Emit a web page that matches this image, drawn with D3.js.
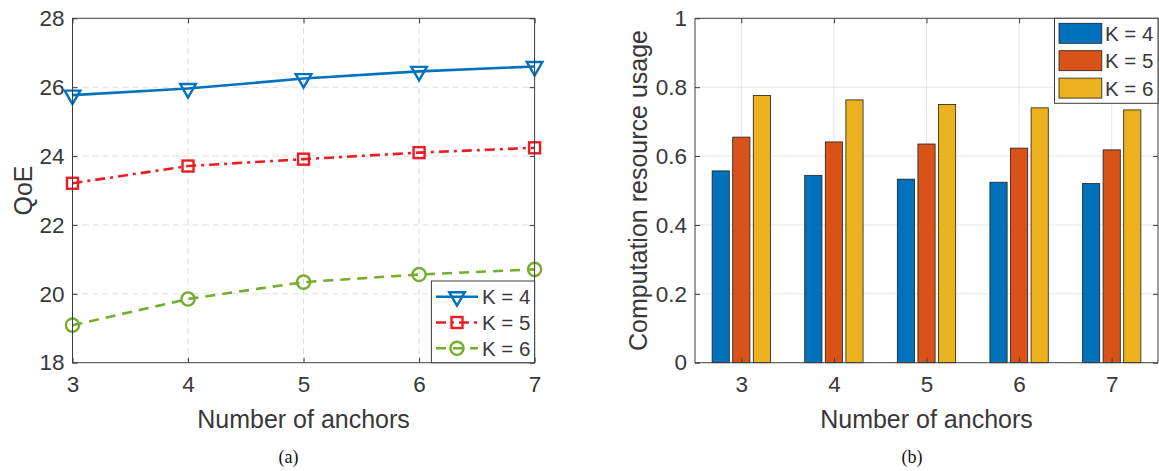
<!DOCTYPE html>
<html>
<head>
<meta charset="utf-8">
<script src="https://cdn.jsdelivr.net/npm/d3@7/dist/d3.min.js"></script>
<style>
  html, body { margin: 0; padding: 0; background: #fff; }
  svg { display: block; }
  text { font-family: "Liberation Sans", Arial, Helvetica, sans-serif; fill: #383838; }
  .caption { font-family: "Liberation Serif", "Times New Roman", serif; fill: #111; }
</style>
</head>
<body>
<svg id="chart" width="1159" height="471"></svg>
<script>
// Number of anchors on the horizontal axis of both panels
const anchors = [3, 4, 5, 6, 7];
const seriesNames = ["K = 4", "K = 5", "K = 6"];

// (a) QoE per number of anchors
const qoeK4 = [25.77, 25.96, 26.25, 26.46, 26.60];
const qoeK5 = [23.21, 23.71, 23.91, 24.10, 24.24];
const qoeK6 = [19.09, 19.85, 20.34, 20.56, 20.71];
const qoeTicks = [18, 20, 22, 24, 26, 28];

// (b) computation resource usage per number of anchors
const usageK4 = [0.557, 0.544, 0.533, 0.524, 0.520];
const usageK5 = [0.655, 0.641, 0.635, 0.623, 0.618];
const usageK6 = [0.776, 0.763, 0.750, 0.740, 0.734];
const usageTicks = [0, 0.2, 0.4, 0.6, 0.8, 1];

const svg = d3.select("#chart");
const axisColor = "#3c3c3c";
const tickFont = 22.5;
const labelFont = 25;
const legendFont = 20.5;
const tickLen = 5;
const lineW = 2.6;

// ---------- panel (a): line chart ----------
const A = { left: 72.5, right: 534.6, top: 18.3, bottom: 362.7 };
const xA = d3.scaleLinear().domain([3, 7]).range([A.left, A.right]);
const yA = d3.scaleLinear().domain([18, 28]).range([A.bottom, A.top]);

const gA = svg.append("g");

// dashed grid
gA.append("g").selectAll("line").data(anchors.slice(1, -1)).join("line")
  .attr("x1", d => xA(d)).attr("x2", d => xA(d))
  .attr("y1", A.top).attr("y2", A.bottom)
  .attr("stroke", "#dcdcdc").attr("stroke-width", 1).attr("stroke-dasharray", "6,4");
gA.append("g").selectAll("line").data(qoeTicks.slice(1, -1)).join("line")
  .attr("x1", A.left).attr("x2", A.right)
  .attr("y1", d => yA(d)).attr("y2", d => yA(d))
  .attr("stroke", "#dcdcdc").attr("stroke-width", 1).attr("stroke-dasharray", "6,4");

// axes with inward ticks on all four sides
function boxAxes(g, xs, ys, xt, yt, box, xFmt, yFmt) {
  g.append("g").attr("transform", `translate(0,${box.bottom})`)
    .call(d3.axisBottom(xs).tickValues(xt).tickSize(-tickLen).tickPadding(13).tickFormat(xFmt))
    .call(s => s.select(".domain").remove());
  g.append("g").attr("transform", `translate(0,${box.top})`)
    .call(d3.axisTop(xs).tickValues(xt).tickSize(-tickLen).tickFormat(""))
    .call(s => s.select(".domain").remove());
  g.append("g").attr("transform", `translate(${box.left},0)`)
    .call(d3.axisLeft(ys).tickValues(yt).tickSize(-tickLen).tickPadding(8).tickFormat(yFmt))
    .call(s => s.select(".domain").remove());
  g.append("g").attr("transform", `translate(${box.right},0)`)
    .call(d3.axisRight(ys).tickValues(yt).tickSize(-tickLen).tickFormat(""))
    .call(s => s.select(".domain").remove());
  g.selectAll(".tick line").attr("stroke", axisColor);
  g.selectAll(".tick text").attr("font-size", tickFont).attr("fill", "#383838")
    .attr("font-family", "Liberation Sans, Arial, sans-serif");
  g.append("rect").attr("x", box.left).attr("y", box.top)
    .attr("width", box.right - box.left).attr("height", box.bottom - box.top)
    .attr("fill", "none").attr("stroke", axisColor).attr("stroke-width", 1);
}

const lineSeries = [
  { name: seriesNames[0], values: qoeK4, color: "#0072BD", dash: null, marker: "tri" },
  { name: seriesNames[1], values: qoeK5, color: "#ED1C24", dash: "10,5,3,5", marker: "sq" },
  { name: seriesNames[2], values: qoeK6, color: "#77AC30", dash: "10,7", marker: "circ" }
];

const line = d3.line().x((d, i) => xA(anchors[i])).y(d => yA(d));

function drawMarker(g, kind, color) {
  if (kind === "tri") {
    g.append("path").attr("d", d3.symbol(d3.symbolTriangle, 105)())
      .attr("transform", "rotate(180)")
      .attr("fill", "none").attr("stroke", color).attr("stroke-width", 2.4);
  } else if (kind === "sq") {
    g.append("rect").attr("x", -5.5).attr("y", -5.5).attr("width", 11).attr("height", 11)
      .attr("fill", "none").attr("stroke", color).attr("stroke-width", 2.4);
  } else {
    g.append("circle").attr("r", 6.6)
      .attr("fill", "none").attr("stroke", color).attr("stroke-width", 2.4);
  }
}

lineSeries.forEach(s => {
  gA.append("path").datum(s.values).attr("d", line)
    .attr("fill", "none").attr("stroke", s.color).attr("stroke-width", lineW)
    .attr("stroke-dasharray", s.dash);
  s.values.forEach((v, i) => {
    const m = gA.append("g").attr("transform", `translate(${xA(anchors[i])},${yA(v)})`);
    drawMarker(m, s.marker, s.color);
  });
});

boxAxes(gA, xA, yA, anchors, qoeTicks, A, d3.format("d"), d3.format("d"));

gA.append("text").attr("x", (A.left + A.right) / 2).attr("y", 427.5)
  .attr("text-anchor", "middle").attr("font-size", labelFont).text("Number of anchors");
gA.append("text").attr("transform", `translate(31.5,${(A.top + A.bottom) / 2}) rotate(-90)`)
  .attr("text-anchor", "middle").attr("font-size", labelFont).text("QoE");

// legend (a)
const legA = gA.append("g");
legA.append("rect").attr("x", 431.4).attr("y", 281).attr("width", A.right - 431.4)
  .attr("height", A.bottom - 281).attr("fill", "#fff").attr("stroke", axisColor).attr("stroke-width", 1);
lineSeries.forEach((s, i) => {
  const y = 296.7 + i * 25.8;
  legA.append("line").attr("x1", 436).attr("x2", 478).attr("y1", y).attr("y2", y)
    .attr("stroke", s.color).attr("stroke-width", lineW).attr("stroke-dasharray", s.dash);
  const m = legA.append("g").attr("transform", `translate(457,${y})`);
  drawMarker(m, s.marker, s.color);
  legA.append("text").attr("x", 482).attr("y", y + 7.5).attr("font-size", legendFont).text(s.name);
});

svg.append("text").attr("class", "caption").attr("x", 288.6).attr("y", 463)
  .attr("text-anchor", "middle").attr("font-size", 18).text("(a)");

// ---------- panel (b): grouped bar chart ----------
const B = { left: 695, right: 1158, top: 18.3, bottom: 362.7 };
const xB = d3.scaleBand().domain(anchors).range([B.left, B.right]).padding(0);
const xPos = d3.scaleLinear().domain([2.5, 7.5]).range([B.left, B.right]);
const inner = d3.scaleBand().domain(seriesNames)
  .range([-0.315 * xB.bandwidth(), 0.315 * xB.bandwidth()]).paddingInner(0.165);
const yB = d3.scaleLinear().domain([0, 1]).range([B.bottom, B.top]);

const gB = svg.append("g");

// solid grid
gB.append("g").selectAll("line").data(anchors).join("line")
  .attr("x1", d => xPos(d)).attr("x2", d => xPos(d))
  .attr("y1", B.top).attr("y2", B.bottom)
  .attr("stroke", "#e6e6e6").attr("stroke-width", 1);
gB.append("g").selectAll("line").data(usageTicks.slice(1, -1)).join("line")
  .attr("x1", B.left).attr("x2", B.right)
  .attr("y1", d => yB(d)).attr("y2", d => yB(d))
  .attr("stroke", "#e6e6e6").attr("stroke-width", 1);

const barSeries = [
  { name: seriesNames[0], values: usageK4, color: "#0072BD" },
  { name: seriesNames[1], values: usageK5, color: "#D95319" },
  { name: seriesNames[2], values: usageK6, color: "#EDB120" }
];

barSeries.forEach(s => {
  gB.append("g").selectAll("rect").data(s.values).join("rect")
    .attr("x", (d, i) => xB(anchors[i]) + xB.bandwidth() / 2 + inner(s.name))
    .attr("width", inner.bandwidth())
    .attr("y", d => yB(d))
    .attr("height", d => yB(0) - yB(d))
    .attr("fill", s.color).attr("stroke", "#1e1e1e").attr("stroke-width", 0.8);
});

boxAxes(gB, xPos, yB, anchors, usageTicks, B, d3.format("d"), d => d === 0 || d === 1 ? d3.format("d")(d) : d3.format(".1f")(d));

gB.append("text").attr("x", (B.left + B.right) / 2).attr("y", 427.5)
  .attr("text-anchor", "middle").attr("font-size", labelFont).text("Number of anchors");
gB.append("text").attr("transform", `translate(647,${(B.top + B.bottom) / 2}) rotate(-90)`)
  .attr("text-anchor", "middle").attr("font-size", labelFont).text("Computation resource usage");

// legend (b)
const legB = gB.append("g");
legB.append("rect").attr("x", 1054.5).attr("y", B.top).attr("width", B.right - 1054.5)
  .attr("height", 103.3 - B.top).attr("fill", "#fff").attr("stroke", axisColor).attr("stroke-width", 1);
barSeries.forEach((s, i) => {
  const y = 23.3 + i * 27.4;
  legB.append("rect").attr("x", 1059).attr("y", y).attr("width", 42.8).attr("height", 20)
    .attr("fill", s.color).attr("stroke", "#1e1e1e").attr("stroke-width", 0.8);
  legB.append("text").attr("x", 1105).attr("y", y + 17.5).attr("font-size", legendFont).text(s.name);
});

svg.append("text").attr("class", "caption").attr("x", 912).attr("y", 463)
  .attr("text-anchor", "middle").attr("font-size", 18).text("(b)");
</script>
</body>
</html>
